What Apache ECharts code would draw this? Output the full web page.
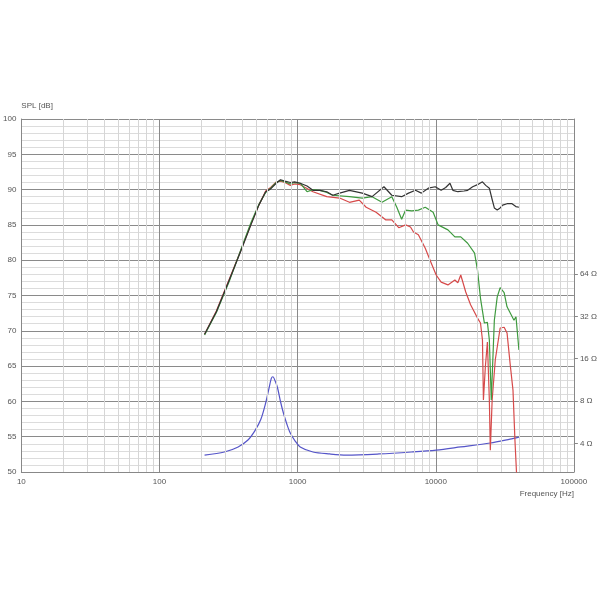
<!DOCTYPE html>
<html>
<head>
<meta charset="utf-8">
<script src="https://cdn.jsdelivr.net/npm/echarts@6/dist/echarts.min.js"></script>
<style>html,body{margin:0;padding:0;background:#fff}#c{width:600px;height:600px}</style>
</head>
<body>
<div id="c"></div>
<script>
// X axis (frequency, Hz) and tick labels
const freqTicks = [10, 100, 1000, 10000, 100000];
const splTicks = [50, 55, 60, 65, 70, 75, 80, 85, 90, 95, 100];
const impedanceTicks = [4, 8, 16, 32, 64];

// Black SPL curve [Hz, dB]
const splBlack = [[212,69.5],[258,72.7],[320,77.2],[390,81.4],[459,85.0],[524,87.8],[587,89.7],[638,90.1],[700,90.9],[751,91.4],[810,91.2],[885,91.0],[950,91.1],[1044,90.9],[1170,90.5],[1291,89.9],[1450,89.9],[1626,89.7],[1795,89.2],[2014,89.5],[2373,89.9],[2937,89.5],[3460,89.0],[4217,90.4],[4807,89.2],[5662,89.0],[6353,89.5],[7129,89.9],[7870,89.5],[8831,90.2],[9908,90.4],[10940,89.9],[11800,90.3],[12670,90.9],[13300,89.9],[14450,89.7],[16000,89.8],[17020,89.9],[18500,90.4],[20050,90.7],[21780,91.1],[23000,90.6],[24430,90.2],[25600,88.6],[26550,87.4],[27860,87.1],[29250,87.4],[30500,87.8],[32810,88.0],[35650,88.0],[38000,87.6],[40000,87.5]];

// Green SPL curve [Hz, dB]
const splGreen = [[212,69.4],[258,72.6],[320,77.0],[390,81.6],[459,85.3],[524,87.9],[587,89.6],[638,90.2],[700,91.0],[751,91.3],[810,91.1],[885,90.8],[950,91.0],[1044,90.9],[1170,89.7],[1291,90.0],[1449,89.9],[1626,89.6],[1795,89.2],[2373,89.0],[2937,88.8],[3460,89.0],[4081,88.2],[4807,89.0],[5224,87.5],[5662,85.8],[6053,87.1],[6700,87.0],[7482,87.1],[8395,87.5],[9572,86.8],[10400,85.0],[12250,84.3],[13750,83.3],[15170,83.3],[17020,82.4],[19100,81.0],[20050,78.6],[21080,74.6],[22490,71.1],[23650,71.2],[24430,68.7],[25230,60.2],[26550,71.5],[27860,74.8],[29250,76.1],[31260,75.4],[32810,73.4],[36830,71.5],[38080,72.0],[40000,67.3]];

// Red SPL curve [Hz, dB]
const splRed = [[212,69.5],[258,72.8],[320,77.3],[390,81.5],[459,85.1],[524,87.8],[587,89.8],[638,90.3],[700,91.1],[751,91.2],[810,91.0],[885,90.6],[950,90.8],[1044,90.7],[1291,89.7],[1626,89.0],[2014,88.8],[2373,88.2],[2794,88.5],[3134,87.5],[3698,86.8],[4355,85.7],[4807,85.7],[5395,84.6],[6053,85.0],[6562,84.7],[6902,84.0],[7482,83.6],[8395,81.7],[9268,79.6],[10070,77.9],[10940,76.9],[12250,76.5],[13750,77.2],[14450,76.8],[15170,77.9],[16480,75.5],[17870,73.7],[20050,71.8],[21080,71.1],[21780,68.7],[22130,60.2],[22860,64.9],[23650,68.4],[24430,60.2],[24830,53.1],[25600,60.2],[26980,65.9],[29250,70.4],[31260,70.5],[32810,69.7],[34510,65.4],[36230,61.6],[37430,54.5],[38730,48.5]];

// Blue impedance curve [Hz, Ohm]
const impedance = [[212,3.30],[295,3.47],[371,3.77],[437,4.22],[490,4.9],[541,5.9],[587,7.74],[617,9.6],[645,11.6],[662,11.9],[690,11.0],[716,9.9],[750,8.0],[789,6.57],[840,5.4],[885,4.73],[960,4.15],[1044,3.77],[1291,3.47],[1709,3.36],[2259,3.30],[3883,3.36],[6683,3.47],[10070,3.58],[15170,3.77],[24830,4.02],[34510,4.29],[40000,4.43]];

const minorFreqs = [];
[10, 100, 1000, 10000].forEach(d => { for (let k = 2; k <= 9; k++) minorFreqs.push(d * k); });

const chart = echarts.init(document.getElementById('c'), null, {renderer: 'canvas'});
const labelStyle = {fontSize: 8, color: '#555', fontFamily: 'Liberation Sans'};
const lineSeries = (name, data, color, yIdx, smooth) => ({
  name, type: 'line', data, yAxisIndex: yIdx, showSymbol: false, symbol: 'none', smooth: smooth || false,
  lineStyle: {color, width: 1.2}, itemStyle: {color}, clip: true, animation: false, z: 3
});

chart.setOption({
  animation: false,
  grid: {left: 17, right: 22, top: 119, bottom: 128, containLabel: false},
  xAxis: {
    type: 'log', logBase: 10, min: freqTicks[0], max: freqTicks[freqTicks.length - 1],
    axisLine: {show: true, lineStyle: {color: '#888'}},
    axisTick: {show: false},
    axisLabel: Object.assign({margin: 6, formatter: v => String(Math.round(v))}, labelStyle),
    splitLine: {show: true, lineStyle: {color: '#8a8a8a', width: 1}},
    name: 'Frequency [Hz]', nameLocation: 'end', nameGap: 0,
    nameTextStyle: {fontSize: 8, color: '#555', align: 'right', verticalAlign: 'top', padding: [18, 0, 0, 0], fontFamily: 'Liberation Sans'}
  },
  yAxis: [{
    type: 'value', min: splTicks[0], max: splTicks[splTicks.length - 1], interval: 5,
    position: 'left',
    axisLine: {show: true, lineStyle: {color: '#888'}},
    axisTick: {show: false},
    axisLabel: Object.assign({margin: 5}, labelStyle),
    splitLine: {show: true, lineStyle: {color: '#8a8a8a', width: 1}},
    minorTick: {show: false, splitNumber: 5},
    minorSplitLine: {show: true, lineStyle: {color: '#dcdcdc', width: 1}},
    name: 'SPL [dB]', nameLocation: 'end', nameGap: 9,
    nameTextStyle: {fontSize: 8, color: '#555', align: 'left', fontFamily: 'Liberation Sans'}
  }, {
    type: 'log', logBase: 2, min: 2.5, max: 812,
    position: 'right',
    axisLine: {show: true, lineStyle: {color: '#888'}},
    axisTick: {show: true, length: 4, customValues: impedanceTicks, lineStyle: {color: '#888'}},
    axisLabel: Object.assign({margin: 6, customValues: impedanceTicks, formatter: v => Math.round(v) + ' Ω'}, labelStyle),
    splitLine: {show: false}
  }],
  series: [
    {
      type: 'line', data: [], silent: true, z: 1,
      markLine: {
        silent: true, symbol: ['none', 'none'], label: {show: false}, animation: false,
        lineStyle: {color: '#d6d6d6', width: 1, type: 'solid'},
        emphasis: {disabled: true},
        data: minorFreqs.map(f => ({xAxis: f}))
      }
    },
    lineSeries('Impedance', impedance, '#5555c8', 1, 0.3),
    lineSeries('Red', splRed, '#d64a4a', 0),
    lineSeries('Green', splGreen, '#3f9a3f', 0),
    lineSeries('Black', splBlack, '#333333', 0)
  ]
});
</script>
</body>
</html>
